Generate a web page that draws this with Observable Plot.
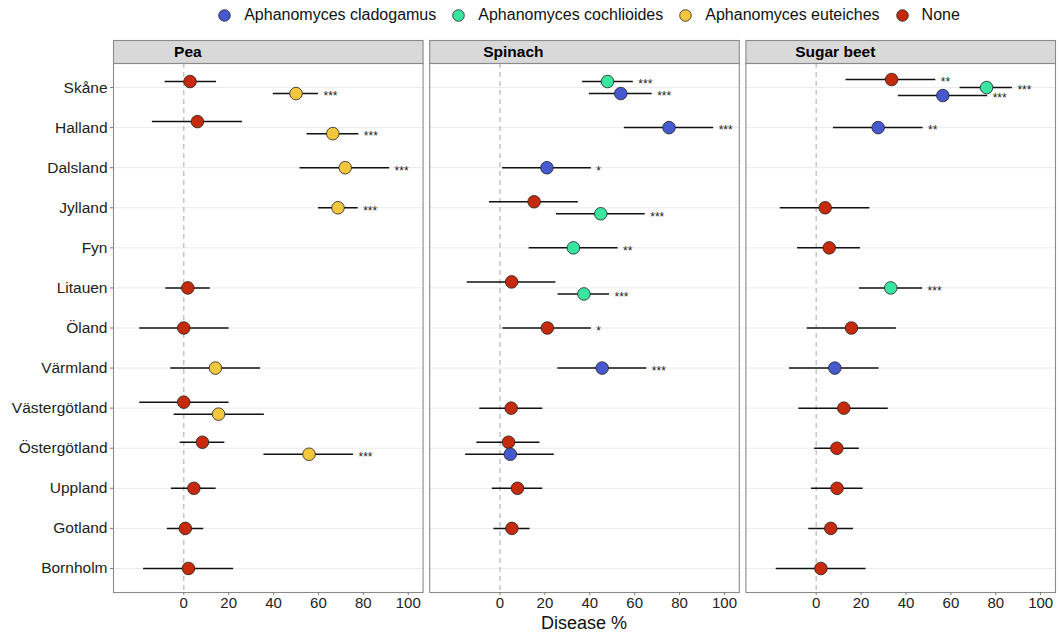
<!DOCTYPE html>
<html>
<head>
<meta charset="utf-8">
<script src="https://cdn.jsdelivr.net/npm/d3@7"></script>
<script src="https://cdn.jsdelivr.net/npm/@observablehq/plot@0.6"></script>
<style>
  html, body { margin: 0; padding: 0; background: #fff; }
  body { font-family: "Liberation Sans", Arial, sans-serif; width: 1059px; }
  #legend { height: 32px; display: flex; justify-content: center; align-items: center;
            padding-left: 135px; box-sizing: border-box; padding-bottom: 2px; font-size: 16px; color: #111; }
  .item { display: flex; align-items: center; margin-right: 16px; }
  .item svg { margin-right: 13px; }
  #chart svg { display: block; }
  #xlabel { height: 25px; line-height: 22px; text-align: center; font-size: 18px; color: #111;
            padding-left: 113px; padding-right: 4px; box-sizing: border-box; }
</style>
</head>
<body>
<div id="legend"></div>
<div id="chart"></div>
<div id="xlabel">Disease %</div>
<script>
// ---------- data ----------
const crops = ["Pea", "Spinach", "Sugar beet"];
const regions = ["Skåne", "Halland", "Dalsland", "Jylland", "Fyn", "Litauen", "Öland",
                 "Värmland", "Västergötland", "Östergötland", "Uppland", "Gotland", "Bornholm"];
const treatments = ["Aphanomyces cladogamus", "Aphanomyces cochlioides", "Aphanomyces euteiches", "None"];
const treatmentColors = ["#4759cf", "#3ae69f", "#f2c63d", "#c62a0c"];
const xTicks = [0, 20, 40, 60, 80, 100];

// [region, treatment, mean, lower, upper, significance]
const pea = [
  ["Skåne", "None", 2.8, -8.3, 14.6, ""],
  ["Skåne", "Aphanomyces euteiches", 50, 39.9, 60, "***"],
  ["Halland", "None", 6.1, -14, 26.2, ""],
  ["Halland", "Aphanomyces euteiches", 66.4, 54.9, 78, "***"],
  ["Dalsland", "Aphanomyces euteiches", 71.9, 51.8, 91.7, "***"],
  ["Jylland", "Aphanomyces euteiches", 68.7, 60, 77.7, "***"],
  ["Litauen", "None", 1.8, -8, 11.8, ""],
  ["Öland", "None", 0, -19.6, 20.2, ""],
  ["Värmland", "Aphanomyces euteiches", 14.1, -5.8, 34.2, ""],
  ["Västergötland", "None", 0, -19.6, 20.2, ""],
  ["Västergötland", "Aphanomyces euteiches", 15.5, -4.3, 35.9, ""],
  ["Östergötland", "None", 8.3, -1.6, 18.3, ""],
  ["Östergötland", "Aphanomyces euteiches", 55.8, 35.7, 75.6, "***"],
  ["Uppland", "None", 4.5, -5.5, 14.4, ""],
  ["Gotland", "None", 0.7, -7.3, 8.9, ""],
  ["Bornholm", "None", 2.1, -17.9, 22.2, ""]
];
const spinach = [
  ["Skåne", "Aphanomyces cochlioides", 47.9, 36.8, 59.4, "***"],
  ["Skåne", "Aphanomyces cladogamus", 53.8, 39.8, 67.8, "***"],
  ["Halland", "Aphanomyces cladogamus", 75.3, 55.4, 95.2, "***"],
  ["Dalsland", "Aphanomyces cladogamus", 20.9, 1.2, 40.7, "*"],
  ["Jylland", "None", 15.2, -4.7, 34.9, ""],
  ["Jylland", "Aphanomyces cochlioides", 44.9, 25.2, 64.7, "***"],
  ["Fyn", "Aphanomyces cochlioides", 32.7, 13, 52.6, "**"],
  ["Litauen", "None", 5.2, -14.6, 24.9, ""],
  ["Litauen", "Aphanomyces cochlioides", 37.4, 25.9, 48.8, "***"],
  ["Öland", "None", 21.1, 1.3, 40.7, "*"],
  ["Värmland", "Aphanomyces cladogamus", 45.5, 25.8, 65.4, "***"],
  ["Västergötland", "None", 5, -9, 19.1, ""],
  ["Östergötland", "None", 3.8, -10.3, 17.8, ""],
  ["Östergötland", "Aphanomyces cladogamus", 4.6, -15.3, 24.2, ""],
  ["Uppland", "None", 7.8, -3.4, 19.1, ""],
  ["Gotland", "None", 5.3, -2.7, 13.4, ""]
];
const sugarBeet = [
  ["Skåne", "None", 33.6, 13.3, 53.3, "**"],
  ["Skåne", "Aphanomyces cochlioides", 75.9, 64.1, 87.4, "***"],
  ["Skåne", "Aphanomyces cladogamus", 56.4, 36.6, 76.4, "***"],
  ["Halland", "Aphanomyces cladogamus", 27.6, 7.7, 47.6, "**"],
  ["Jylland", "None", 4, -16, 23.9, ""],
  ["Fyn", "None", 5.8, -8.3, 19.7, ""],
  ["Litauen", "Aphanomyces cochlioides", 33.2, 19.3, 47.4, "***"],
  ["Öland", "None", 15.7, -4, 35.7, ""],
  ["Värmland", "Aphanomyces cladogamus", 8.3, -11.9, 28, ""],
  ["Västergötland", "None", 12.3, -7.7, 32.1, ""],
  ["Östergötland", "None", 9.2, -0.7, 19.2, ""],
  ["Uppland", "None", 9.3, -2.1, 20.9, ""],
  ["Gotland", "None", 6.5, -3.3, 16.6, ""],
  ["Bornholm", "None", 2.1, -17.8, 22.2, ""]
];

// ---------- build table with dodge (width 0.6, like ggplot position_dodge) ----------
const table = [];
function addCrop(crop, arr) {
  const groups = d3.group(arr, d => d[0]);
  for (const [region, items] of groups) {
    const sorted = items.slice().sort((a, b) => d3.descending(a[1], b[1]));
    const n = sorted.length;
    sorted.forEach((d, i) => table.push({
      crop, region, treatment: d[1], mean: d[2], lo: d[3], hi: d[4], sig: d[5],
      pos: regions.indexOf(region) + (i - (n - 1) / 2) * 0.6 / n
    }));
  }
}
addCrop("Pea", pea);
addCrop("Spinach", spinach);
addCrop("Sugar beet", sugarBeet);

const regionIdx = regions.map((_, i) => i);
const innerH = 529;

// ---------- legend ----------
const legend = document.getElementById("legend");
treatments.forEach((t, i) => {
  const it = document.createElement("div");
  it.className = "item";
  it.innerHTML = `<svg width="13" height="13"><circle cx="6.5" cy="6.5" r="5.8" fill="${treatmentColors[i]}" stroke="#222" stroke-width="0.8"/></svg><span>${t}</span>`;
  legend.appendChild(it);
});

// ---------- plot ----------
const chart = Plot.plot({
  width: 1059,
  height: 580,
  marginTop: 31,
  marginBottom: 20,
  marginLeft: 113,
  marginRight: 4,
  style: { fontFamily: "Liberation Sans, Arial, sans-serif", background: "white" },
  fx: { domain: crops, paddingInner: 0.021, paddingOuter: 0, round: false, axis: null, label: null },
  x: { domain: [-31.3, 106.6], label: null },
  y: { domain: [12.6, -0.6], label: null },
  color: { domain: treatments, range: treatmentColors },
  marks: [
    Plot.frame({ fill: "#d9d9d9", stroke: "#8a8a8a", strokeWidth: 1.1, insetTop: -23, insetBottom: innerH }),
    Plot.gridY(regionIdx, { stroke: "#ebebeb", strokeOpacity: 1, strokeWidth: 1 }),
    Plot.ruleX([0], { stroke: "#bdbdbd", strokeDasharray: "5,4", strokeWidth: 1.3 }),
    Plot.ruleY(table, { fx: "crop", y: "pos", x1: "lo", x2: "hi", stroke: "#111", strokeWidth: 1.5 }),
    Plot.dot(table, { fx: "crop", x: "mean", y: "pos", r: 6.3, fill: "treatment", stroke: "#222", strokeWidth: 0.8 }),
    Plot.text(table.filter(d => d.sig), { fx: "crop", x: "hi", y: "pos", text: "sig", dx: 5, dy: 3,
      textAnchor: "start", fontSize: 12, fill: "#222" }),
    Plot.text(crops, { fx: d => d, text: d => d, frameAnchor: "top-left", dx: 66.5, dy: -11.5,
      lineAnchor: "middle", textAnchor: "start", fontWeight: "bold", fontSize: 15.5, fill: "#000" }),
    Plot.frame({ stroke: "#8a8a8a", strokeWidth: 1.1 }),
    Plot.axisY(regionIdx, { tickFormat: i => regions[i], tickSize: 3, tickPadding: 3, fontSize: 15.5,
      stroke: "#7a7a7a", fill: "#222", label: null }),
    Plot.axisX(xTicks, { tickSize: 3, tickPadding: 2, fontSize: 15, stroke: "#7a7a7a", fill: "#222", label: null })
  ]
});
document.getElementById("chart").appendChild(chart);

// ggplot-like strip text hjust (~0.215): shift each strip label left by a fraction of its length
d3.select(chart).selectAll("text").each(function () {
  if (crops.includes(this.textContent) && this.closest('g[font-weight="bold"]')) {
    const len = this.getComputedTextLength();
    this.setAttribute("dx", -0.215 * len);
  }
});
</script>
</body>
</html>
